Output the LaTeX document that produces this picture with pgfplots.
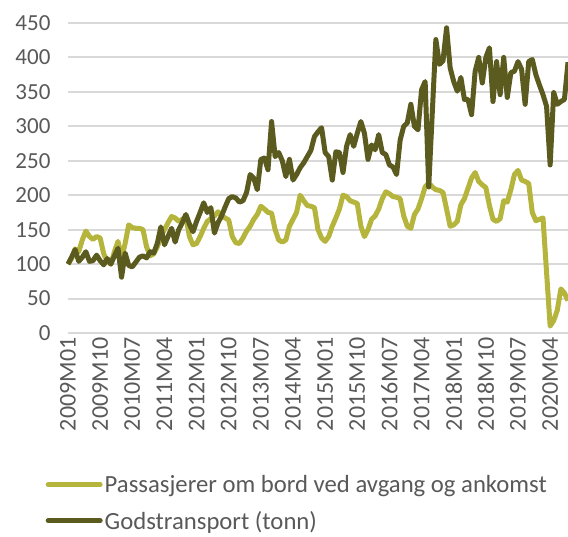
\documentclass[border=0pt]{standalone}
\usepackage{fontspec}
\setmainfont{Carlito}
\usepackage{pgfplots}
\usepackage{pgfplotstable}
\pgfplotsset{compat=1.18}

\definecolor{pass}{HTML}{B5B43C}
\definecolor{gods}{HTML}{5B5B1F}
\definecolor{txt}{HTML}{595959}
\definecolor{gridc}{HTML}{D9D9D9}

% index (months since 2009M01), passengers, freight (tonnes); 2009M01 = 100
\pgfplotstableread{
i p g
0 100 100
1 108 110
2 122 121
3 118 104
4 135 110
5 148 118
6 140 104
7 136 105
8 140 113
9 138 105
10 115 99
11 104 108
12 100 100
13 118 112
14 133 123
15 108 81
16 130 116
17 157 98
18 153 96
19 152 103
20 152 110
21 150 112
22 125 109
23 112 118
24 115 116
25 125 130
26 140 154
27 150 128
28 160 140
29 169 152
30 167 132
31 162 150
32 165 160
33 169 172
34 140 158
35 128 147
36 130 162
37 140 175
38 152 189
39 162 175
40 166 182
41 170 145
42 176 160
43 170 170
44 167 183
45 164 195
46 140 198
47 131 196
48 130 190
49 138 192
50 148 204
51 155 230
52 165 225
53 172 208
54 184 252
55 180 254
56 175 237
57 174 307
58 150 256
59 135 262
60 132 250
61 135 227
62 155 252
63 165 222
64 175 230
65 200 240
66 192 247
67 185 256
68 184 265
69 182 285
70 150 292
71 138 298
72 133 262
73 140 256
74 155 222
75 167 263
76 180 262
77 200 233
78 198 271
79 192 288
80 190 271
81 188 290
82 155 307
83 140 290
84 150 252
85 165 273
86 170 266
87 180 288
88 195 262
89 205 259
90 202 244
91 198 241
92 197 230
93 195 280
94 170 300
95 155 305
96 152 332
97 172 300
98 180 295
99 195 353
100 212 365
101 218 212
102 212 320
103 208 426
104 207 390
105 204 395
106 180 443
107 155 385
108 157 365
109 162 351
110 186 371
111 195 339
112 210 339
113 225 317
114 233 380
115 220 400
116 215 363
117 211 400
118 185 414
119 165 336
120 162 394
121 166 346
122 192 400
123 190 342
124 208 378
125 230 380
126 236 394
127 222 383
128 220 332
129 217 394
130 175 397
131 163 375
132 165 360
133 167 346
134 88 329
135 10 244
136 18 349
137 33 332
138 64 336
139 58 339
140 47 393
}\data

\begin{document}
\begin{tikzpicture}
\begin{axis}[
    at={(68pt,203pt)}, anchor=south west,
    scale only axis,
    width=500pt, height=310pt,
    xmin=0, xmax=140,
    ymin=0, ymax=450,
    ytick={0,50,...,450},
    xtick={0,9,...,135},
    xticklabels={2009M01,2009M10,2010M07,2011M04,2012M01,2012M10,2013M07,2014M04,
        2015M01,2015M10,2016M07,2017M04,2018M01,2018M10,2019M07,2020M04},
    axis line style={draw=none},
    major tick length=0pt,
    ymajorgrids,
    grid style={gridc, line width=2pt},
    tick label style={text=txt},
    yticklabel style={font=\fontsize{23}{27}\selectfont, xshift=-14pt},
    xticklabel style={font=\fontsize{24}{28}\selectfont, rotate=90, anchor=east, xshift=-1pt},
    /pgf/number format/assume math mode=true,
    clip=false,
    legend cell align=left,
    legend style={draw=none, fill=none,
        at={(axis description cs:-0.045,-0.452)}, anchor=north west,
        font=\fontsize{24.7}{29}\selectfont, text=txt,
        row sep=13pt, inner sep=0pt},
    legend image code/.code={\draw[#1, line cap=round] (0pt,0pt) -- (52pt,0pt);},
]
\addplot[pass, line width=5pt, line join=round] table[x=i, y=p] {\data};
\addplot[gods, line width=5pt, line join=round] table[x=i, y=g] {\data};
\legend{Passasjerer om bord ved avgang og ankomst, Godstransport (tonn)}
\end{axis}
\pgfresetboundingbox
\path (0pt,0pt) rectangle (568pt,536pt);
\end{tikzpicture}
\end{document}
